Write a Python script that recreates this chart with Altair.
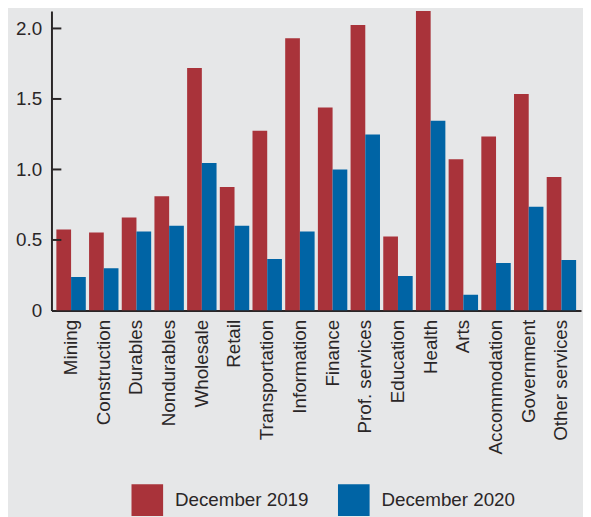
import altair as alt
import pandas as pd

industries = ["Mining", "Construction", "Durables", "Nondurables", "Wholesale", "Retail",
              "Transportation", "Information", "Finance", "Prof. services", "Education",
              "Health", "Arts", "Accommodation", "Government", "Other services"]
dec2019 = [0.575, 0.553, 0.66, 0.81, 1.72, 0.876, 1.275, 1.93, 1.44, 2.025, 0.525,
           2.20, 1.072, 1.233, 1.535, 0.946]
dec2020 = [0.238, 0.30, 0.56, 0.60, 1.045, 0.60, 0.365, 0.56, 1.00, 1.247, 0.245,
           1.345, 0.112, 0.336, 0.736, 0.357]
series = ["December 2019", "December 2020"]
tick_values = [0.5, 1.0, 1.5, 2.0]

rows = []
for i, name in enumerate(industries):
    rows.append({"industry": name, "series": series[0], "value": dec2019[i]})
    rows.append({"industry": name, "series": series[1], "value": dec2020[i]})
df = pd.DataFrame(rows)
ticks_df = pd.DataFrame({"v": tick_values})

FONT = "Liberation Sans"
TXT = "#2a2627"
FS = 19

bars = alt.Chart(df).mark_bar(clip=True).encode(
    x=alt.X("industry:N", sort=industries,
            scale=alt.Scale(paddingInner=0.1, paddingOuter=0.15),
            axis=alt.Axis(title=None, labelAngle=-90, ticks=False, labelPadding=9,
                          labelFontSize=FS, labelFont=FONT, labelColor=TXT,
                          domainColor=TXT, domainWidth=2)),
    xOffset=alt.XOffset("series:N", sort=series, scale=alt.Scale(paddingInner=0, paddingOuter=0)),
    y=alt.Y("value:Q", scale=alt.Scale(domain=[0, 2.123], nice=False, zero=True),
            axis=alt.Axis(title=None, values=[0, 0.5, 1.0, 1.5, 2.0], grid=False, ticks=False,
                          labelExpr="datum.value == 0 ? '0' : format(datum.value, '.1f')",
                          labelPadding=10, labelFontSize=FS, labelFont=FONT, labelColor=TXT,
                          domainColor=TXT, domainWidth=2)),
    color=alt.Color("series:N", sort=series,
                    scale=alt.Scale(domain=series, range=["#a9333a", "#0064a5"]),
                    legend=alt.Legend(title=None, orient="none", direction="horizontal",
                                      legendX=81, legendY=479,
                                      symbolType="square", symbolSize=1024,
                                      symbolStrokeWidth=0, symbolOpacity=1,
                                      labelFontSize=FS, labelFont=FONT, labelColor=TXT,
                                      labelOffset=12, columnPadding=29)),
)

tick_rules = alt.Chart(ticks_df).mark_rule(color=TXT, strokeWidth=2).encode(
    y="v:Q", x=alt.value(0), x2=alt.value(10)
)

chart = alt.layer(bars, tick_rules).properties(
    width=536, height=303, background="#e6e7e8",
    padding={"top": 0, "left": 7, "right": 2, "bottom": 5}
).configure_view(stroke=None)

chart.save("out.html", embed_options={"renderer": "svg", "actions": False})
